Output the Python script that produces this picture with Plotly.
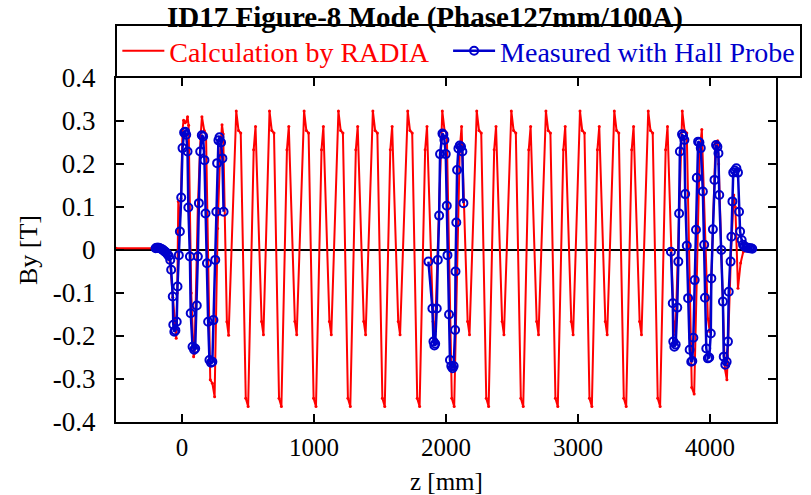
import plotly.graph_objects as go

# ---------------- data ----------------
# RADIA calculation: vertices of the calculated By(z) trace  (z in mm, By in T)
RADIA_Z = [
    -500, -180, -150, -120, -90, -70, -55, -44, -36, -28, -20, -8, 4, 12, 24, 33, 42, 50, 70, 88, 95,
    120, 140, 151, 168, 182, 214, 230, 247, 270, 288, 303, 312, 340, 353,
    411, 428, 445, 483, 501, 543, 557, 603, 617,
    663, 680, 697, 735, 753, 795, 809, 855, 869,
    925, 942, 959, 997, 1015, 1057, 1071, 1117, 1131,
    1185, 1202, 1219, 1257, 1275, 1317, 1331, 1377, 1391,
    1446, 1463, 1480, 1518, 1536, 1578, 1592, 1638, 1652,
    1710, 1727, 1744, 1782, 1800, 1842, 1856, 1902, 1916,
    1972, 1989, 2006, 2044, 2062, 2104, 2118, 2164, 2178,
    2233, 2250, 2267, 2305, 2323, 2365, 2379, 2425, 2439,
    2495, 2512, 2529, 2567, 2585, 2627, 2641, 2687, 2701,
    2757, 2774, 2791, 2829, 2847, 2889, 2903, 2949, 2963,
    3015, 3032, 3049, 3087, 3105, 3147, 3161, 3207, 3221,
    3275, 3292, 3309, 3347, 3365, 3407, 3421, 3467, 3481,
    3532, 3549, 3566, 3604, 3622, 3664, 3678, 3724, 3738,
    3790, 3807, 3824, 3862, 3880, 3922, 3938, 3984, 3998,
    4042, 4058, 4066, 4112, 4128, 4160, 4180, 4192, 4212, 4232, 4252, 4300,
]
RADIA_BY = [
    0.004, 0.004, 0.002, -0.004, -0.03, -0.11, -0.18, -0.205, -0.10, 0.113, 0.04, 0.12, 0.28, 0.302, 0.296, 0.299, 0.31, 0.29, -0.10, -0.248, -0.24,
    0.10, 0.26, 0.31, 0.278, 0.27, -0.302, -0.31, -0.341, 0.05, 0.22, 0.291, 0.27, -0.167, -0.198,
    0.323, 0.278, 0.272, -0.345, -0.364, 0.233, 0.287, -0.166, -0.197,
    0.323, 0.278, 0.272, -0.345, -0.364, 0.233, 0.287, -0.166, -0.197,
    0.323, 0.278, 0.272, -0.345, -0.364, 0.233, 0.287, -0.166, -0.197,
    0.323, 0.278, 0.272, -0.345, -0.364, 0.233, 0.287, -0.166, -0.197,
    0.323, 0.278, 0.272, -0.345, -0.364, 0.233, 0.287, -0.166, -0.197,
    0.323, 0.278, 0.272, -0.345, -0.364, 0.233, 0.287, -0.166, -0.197,
    0.323, 0.278, 0.272, -0.345, -0.364, 0.233, 0.287, -0.166, -0.197,
    0.323, 0.278, 0.272, -0.345, -0.364, 0.233, 0.287, -0.166, -0.197,
    0.323, 0.278, 0.272, -0.345, -0.364, 0.233, 0.287, -0.166, -0.197,
    0.323, 0.278, 0.272, -0.345, -0.364, 0.233, 0.287, -0.166, -0.197,
    0.323, 0.278, 0.272, -0.345, -0.364, 0.233, 0.287, -0.166, -0.197,
    0.323, 0.278, 0.272, -0.345, -0.364, 0.233, 0.287, -0.166, -0.197,
    0.323, 0.278, 0.272, -0.345, -0.364, 0.233, 0.287, -0.166, -0.197,
    0.323, 0.278, 0.272, -0.320, -0.335, 0.230, 0.280, -0.160, -0.190,
    0.250, 0.254, 0.200, -0.275, -0.302, 0.0, 0.128, 0.10, -0.089, -0.03, -0.004, 0.0,
]

# Hall probe measurement, three scanned sections
HALL_Z_1 = [-200, -192, -184, -176, -168, -160, -152, -144, -136, -128, -120, -110, -100, -89, -82,
            -70, -66, -58, -50, -40, -34, -24, -16, -6, 4, 16, 24, 32, 42, 48, 60, 66, 80, 92, 100,
            112, 120, 128, 138, 150, 160, 170, 178, 189, 198, 208, 220, 230, 238, 252, 260, 266,
            276, 284, 296, 306, 315]
HALL_BY_1 = [0.004, 0.005, 0.005, 0.005, 0.004, 0.003, 0.002, 0.0, -0.002, -0.004, -0.006, -0.010,
             -0.014, -0.023, -0.046, -0.108, -0.174, -0.190, -0.187, -0.167, -0.085, -0.012, 0.043,
             0.122, 0.237, 0.273, 0.275, 0.268, 0.229, 0.099, -0.015, -0.147, -0.225, -0.232,
             -0.229, -0.129, -0.015, 0.109, 0.229, 0.267, 0.264, 0.209, 0.085, -0.031, -0.167,
             -0.256, -0.262, -0.260, -0.163, -0.023, 0.089, 0.202, 0.255, 0.262, 0.250, 0.213, 0.089]

HALL_Z_2 = [1867, 1897, 1905, 1912, 1918, 1930, 1938, 1948, 1955, 1973, 1980, 1988, 1998, 2006,
            2011, 2023, 2030, 2040, 2050, 2058, 2069, 2072, 2078, 2084, 2094, 2104, 2114, 2124, 2132]
HALL_BY_2 = [-0.027, -0.136, -0.213, -0.222, -0.218, -0.136, -0.023, 0.080, 0.223, 0.271, 0.268,
             0.256, 0.223, 0.103, -0.012, -0.150, -0.256, -0.270, -0.275, -0.270, -0.186, -0.050,
             0.064, 0.186, 0.236, 0.243, 0.240, 0.229, 0.109]

HALL_Z_3 = [3704, 3718, 3722, 3730, 3740, 3752, 3760, 3766, 3772, 3788, 3796, 3806, 3812, 3824,
            3834, 3846, 3858, 3866, 3874, 3884, 3894, 3900, 3910, 3920, 3930, 3946, 3956, 3962,
            3972, 3984, 3994, 4006, 4010, 4022, 4034, 4046, 4056, 4064, 4070, 4086, 4098, 4104,
            4116, 4126, 4136, 4142, 4156, 4162, 4170, 4176, 4188, 4200, 4212, 4220, 4228, 4240,
            4250, 4262, 4274, 4286, 4298, 4310, 4320]
HALL_BY_3 = [-0.004, -0.124, -0.213, -0.225, -0.220, -0.134, -0.027, 0.085, 0.229, 0.269, 0.265,
             0.256, 0.130, 0.010, -0.112, -0.232, -0.260, -0.258, -0.204, -0.070, 0.047, 0.168,
             0.252, 0.250, 0.237, 0.136, 0.012, -0.111, -0.229, -0.252, -0.250, -0.194, -0.066,
             0.048, 0.163, 0.244, 0.240, 0.225, 0.128, 0.0, -0.120, -0.248, -0.267, -0.260,
             -0.213, -0.097, -0.027, 0.031, 0.113, 0.180, 0.185, 0.190, 0.180, 0.089, 0.043,
             0.023, 0.012, 0.008, 0.006, 0.005, 0.004, 0.004, 0.003]

X_TICKS = [0, 1000, 2000, 3000, 4000]
X_TICK_LABELS = ["0", "1000", "2000", "3000", "4000"]
Y_TICKS = [-0.4, -0.3, -0.2, -0.1, 0, 0.1, 0.2, 0.3, 0.4]
Y_TICK_LABELS = ["-0.4", "-0.3", "-0.2", "-0.1", "0", "0.1", "0.2", "0.3", "0.4"]

TITLE = "ID17 Figure-8 Mode (Phase127mm/100A)"
X_TITLE = "z [mm]"
Y_TITLE = "By [T]"
RED_NAME = "Calculation by RADIA"
BLUE_NAME = "Measured with Hall Probe"

# ---------------- figure ----------------
RED = "#ff0000"
BLUE = "#0000cc"
FONT = "Liberation Serif, Times New Roman, serif"

hall_z = HALL_Z_1 + [None] + HALL_Z_2 + [None] + HALL_Z_3
hall_by = HALL_BY_1 + [None] + HALL_BY_2 + [None] + HALL_BY_3

fig = go.Figure()
fig.add_trace(go.Scatter(
    x=RADIA_Z, y=RADIA_BY, mode="lines+markers", showlegend=False,
    line=dict(color=RED, width=2), marker=dict(color=RED, size=3),
))
fig.add_trace(go.Scatter(
    x=[None], y=[None], mode="lines",
    name=f'<span style="color:{RED}">{RED_NAME}</span>&nbsp;&nbsp;',
    line=dict(color=RED, width=2),
))
fig.add_trace(go.Scatter(
    x=hall_z, y=hall_by, mode="lines+markers", connectgaps=False,
    name=f'<span style="color:{BLUE}">{BLUE_NAME}</span>',
    line=dict(color=BLUE, width=2.5),
    marker=dict(symbol="circle-open", size=8, color=BLUE, line=dict(width=2, color=BLUE)),
))

axis_common = dict(
    showline=True, linecolor="black", linewidth=2, mirror="ticks",
    ticks="inside", ticklen=8, tickwidth=2, tickcolor="black",
    showgrid=False, automargin=False,
)

fig.update_layout(
    width=811, height=495,
    margin=dict(l=116, r=35, t=78, b=73),
    paper_bgcolor="white", plot_bgcolor="white",
    font=dict(family=FONT, color="black"),
    title=dict(text=f"<b>{TITLE}</b>", font=dict(family=FONT, size=29, color="black"),
               x=0.524, xref="container", xanchor="center",
               y=0.966, yref="container", yanchor="middle"),
    xaxis=dict(range=[-500, 4500], tickvals=X_TICKS, ticktext=X_TICK_LABELS,
               zeroline=False, ticklabelstandoff=2,
               tickfont=dict(family=FONT, size=25, color="black"),
               **axis_common),
    yaxis=dict(range=[-0.4, 0.4], tickvals=Y_TICKS, ticktext=Y_TICK_LABELS,
               zeroline=True, zerolinecolor="black", zerolinewidth=2,
               ticklabelstandoff=13,
               tickfont=dict(family=FONT, size=27, color="black"),
               title=dict(text=Y_TITLE, font=dict(family=FONT, size=26), standoff=8),
               **axis_common),
    legend=dict(orientation="h", x=-0.001, xanchor="left", y=1.0, yanchor="bottom",
                bordercolor="black", borderwidth=2, bgcolor="white",
                font=dict(family=FONT, size=28), itemwidth=42),
    annotations=[dict(text=X_TITLE, xref="paper", yref="paper", x=0.5, y=-0.172,
                      xanchor="center", yanchor="middle", showarrow=False,
                      font=dict(family=FONT, size=25, color="black"))],
)

fig.write_html("out.html", config={"displayModeBar": False},
               post_script="document.body.style.margin='0px';")
